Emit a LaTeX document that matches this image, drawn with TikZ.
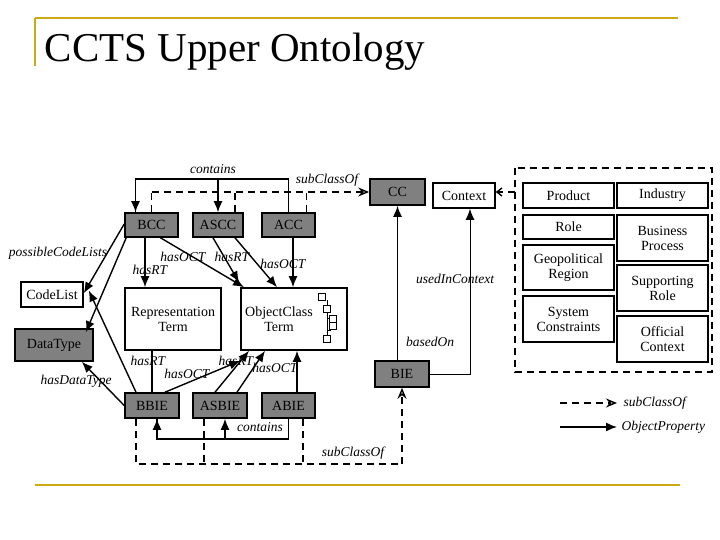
\documentclass[tikz,border=0pt]{standalone}
\usepackage{fontspec}
\setmainfont{Liberation Serif}
\usetikzlibrary{arrows.meta}
\definecolor{gold}{RGB}{204,170,20}
\definecolor{boxgray}{RGB}{128,128,128}
\begin{document}
\begin{tikzpicture}[x=1pt,y=-1pt,line width=1.4pt,
  box/.style={draw,line width=1.6pt,fill=white,inner sep=0pt,align=center,font=\fontsize{14}{15}\selectfont},
  gbox/.style={box,fill=boxgray},
  lbl/.style={font=\itshape\fontsize{13.5}{14}\selectfont,inner sep=1pt},
  prop/.style={-{Latex[length=11pt,width=9pt]}},
  sub/.style={dash pattern=on 7pt off 5pt,-{Stealth[open,length=11pt,width=9pt]}},
  subl/.style={dash pattern=on 7pt off 5pt}]
\useasboundingbox (0,0) rectangle (720,540);
% frame lines and title
\draw[gold,line width=2pt] (35,18) -- (678,18);
\draw[gold,line width=2pt] (35,18) -- (35,66);
\draw[gold,line width=2pt] (35,485) -- (680,485);
\node[anchor=west,font=\fontsize{41}{43}\selectfont,inner sep=0pt] (title) at (44,52) {CCTS Upper Ontology};
% nodes
\node[gbox,minimum width=53pt,minimum height=24pt] (BCC) at (151.5,225) {BCC};
\node[gbox,minimum width=50pt,minimum height=24pt] (ASCC) at (218,225) {ASCC};
\node[gbox,minimum width=53pt,minimum height=24pt] (ACC) at (288.5,225) {ACC};
\node[box,minimum width=62pt,minimum height=25pt] (CodeList) at (52,294.5) {CodeList};
\node[gbox,minimum width=78pt,minimum height=32pt] (DataType) at (54,345) {DataType};
\node[box,minimum width=96pt,minimum height=62pt] (RT) at (173,319) {Representation\\Term};
\node[box,minimum width=106pt,minimum height=62pt] (OCT) at (294,319) {};
\node[align=center,font=\fontsize{14}{15}\selectfont,inner sep=0pt] (octtext) at (279,319) {ObjectClass\\Term};
\node[gbox,minimum width=54pt,minimum height=25pt] (BBIE) at (152,405.5) {BBIE};
\node[gbox,minimum width=54pt,minimum height=25pt] (ASBIE) at (220,405.5) {ASBIE};
\node[gbox,minimum width=53pt,minimum height=25pt] (ABIE) at (288.5,405.5) {ABIE};
\node[gbox,minimum width=55pt,minimum height=26pt] (CC) at (397.5,192) {CC};
\node[box,minimum width=62pt,minimum height=25pt] (Context) at (464,195.5) {Context};
\node[gbox,minimum width=54pt,minimum height=26pt] (BIE) at (402,374) {BIE};
% object class icon
\draw[line width=1pt] (327,300) -- (327,343) (327,306) -- (331,306) (327,318) -- (331,318) (327,330) -- (331,330);
\foreach \p in {(322,297),(327,309),(333,319),(333,326),(327,339)}
  \draw[line width=1pt,fill=white] \p ++(-3.5,-3.5) rectangle ++(7,7);
% context group
\draw[subl] (515,168) rectangle (712,372);
\coordinate (ctxin) at (515,192);
\node[box,minimum width=91pt,minimum height=25pt] (Product) at (568.5,195.5) {Product};
\node[box,minimum width=91pt,minimum height=25pt] (Industry) at (662.5,195.5) {Industry};
\node[box,minimum width=91pt,minimum height=24pt] (Role) at (568.5,227) {Role};
\node[box,minimum width=91pt,minimum height=45pt] (Geo) at (568.5,267.5) {Geopolitical\\Region};
\node[box,minimum width=91pt,minimum height=46pt] (Sys) at (568.5,319) {System\\Constraints};
\node[box,minimum width=91pt,minimum height=46pt] (BP) at (662.5,238) {Business\\Process};
\node[box,minimum width=91pt,minimum height=46pt] (SR) at (662.5,288) {Supporting\\Role};
\node[box,minimum width=91pt,minimum height=46pt] (OC) at (662.5,339) {Official\\Context};
\draw[dash pattern=on 7pt off 5pt,-{Straight Barb[length=5pt,width=8pt]}] (ctxin) -- (Context.east |- ctxin);
% top contains
\draw ([xshift=-16pt]BCC.north) -- ++(0,-33) coordinate (c1) -| (ACC.north);
\draw[prop] (c1) -- ([xshift=-16pt]BCC.north);
\draw[prop] (ASCC.north |- c1) -- (ASCC.north);
\node[lbl] (l1) at (213,169) {contains};
% top subClassOf
\draw[subl] (BCC.north) -- (BCC.north |- CC.west) coordinate (s1);
\draw[subl] ([xshift=17pt]ASCC.north) -- ([xshift=17pt]ASCC.north |- s1);
\draw[subl] ([xshift=18pt]ACC.north) -- ([xshift=18pt]ACC.north |- s1);
\draw[sub] (s1) -- (CC.west);
\node[lbl] (l2) at (327,180) {subClassOf};
% BCC relations
\draw[prop] ([yshift=1pt]BCC.west) -- ([yshift=-12pt]CodeList.north east);
\draw[prop] ([xshift=2pt]BCC.south west) -- ([xshift=-8pt,yshift=-4pt]DataType.north east);
\node[lbl] (l3) at (58,253) {possibleCodeLists};
\draw[prop] (BCC.south -| RT.north -| 145,0) -- (RT.north -| 145,0);
\node[lbl] (l4) at (150,270) {hasRT};
\draw[prop] ([xshift=9pt]BCC.south) -- ([xshift=-50pt]OCT.north);
\node[lbl] (l5) at (183,257) {hasOCT};
\draw[prop] ([xshift=-5pt]ASCC.south) -- ([xshift=-55pt,yshift=5pt]OCT.north);
\draw[prop] ([xshift=17pt]ASCC.south) -- ([xshift=-17pt]OCT.north);
\node[lbl] (l6) at (232,257) {hasRT};
\node[lbl] (l7) at (283,264) {hasOCT};
\draw[prop] ([xshift=4.5pt]ACC.south) -- ([xshift=-1pt]OCT.north);
% BBIE relations
\draw[prop] ([xshift=-16pt]BBIE.north) -- ([xshift=5pt,yshift=4pt]CodeList.east);
\draw[prop] (BBIE.west) -- ([xshift=-12pt]DataType.south east);
\node[lbl] (l8) at (76,381) {hasDataType};
\draw (BBIE.north) -- (BBIE.north |- RT.south);
\node[lbl] (l9) at (148,361) {hasRT};
\draw[prop] ([xshift=13pt]BBIE.north) -- ([yshift=-10pt]OCT.south west);
\node[lbl] (l10) at (187,374) {hasOCT};
\draw[prop] ([xshift=-5pt]ASBIE.north) -- ([xshift=-45pt]OCT.south);
\draw[prop] ([xshift=17pt]ASBIE.north) -- ([xshift=-29pt]OCT.south);
\node[lbl] (l11) at (236,361) {hasRT};
\node[lbl] (l12) at (275,368) {hasOCT};
\draw[prop] ([xshift=8.5pt]ABIE.north) -- ([xshift=3pt]OCT.south);
% bottom contains
\draw (ABIE.south) -- ++(0,20) coordinate (c2) -| ([xshift=5pt]BBIE.south);
\draw[prop] (c2 -| BBIE.south) ++(5pt,0) -- ([xshift=5pt]BBIE.south);
\draw[prop] (c2 -| ASBIE.south) ++(5pt,0) -- ([xshift=5pt]ASBIE.south);
\node[lbl] (l13) at (260,427) {contains};
% bottom subClassOf
\draw[subl] ([xshift=-16pt]BBIE.south) -- ++(0,45) coordinate (s2) -- (s2 -| BIE.south) coordinate (s3);
\draw[subl] ([xshift=-16pt]ASBIE.south) -- ([xshift=-16pt]ASBIE.south |- s2);
\draw[subl] ([xshift=14.5pt]ABIE.south) -- ([xshift=14.5pt]ABIE.south |- s2);
\draw[sub] (s3) -- (BIE.south);
\node[lbl] (l14) at (353,453) {subClassOf};
% BIE relations
\draw[prop] (BIE.north -| CC.south) -- (CC.south);
\node[lbl] (l15) at (430,342) {basedOn};
\draw[prop,line width=1pt] (BIE.east) -| ([xshift=6pt]Context.south);
\node[lbl] (l16) at (455,279) {usedInContext};
% legend
\coordinate (g1) at (560,403);
\coordinate (g2) at (617,403);
\coordinate (g3) at (560,427);
\coordinate (g4) at (617,427);
\draw[sub] (g1) -- (g2);
\draw[prop] (g3) -- (g4);
\node[lbl,anchor=west] (l17) at (622,403) {subClassOf};
\node[lbl,anchor=west] (l18) at (620,427) {ObjectProperty};
\end{tikzpicture}
\end{document}
